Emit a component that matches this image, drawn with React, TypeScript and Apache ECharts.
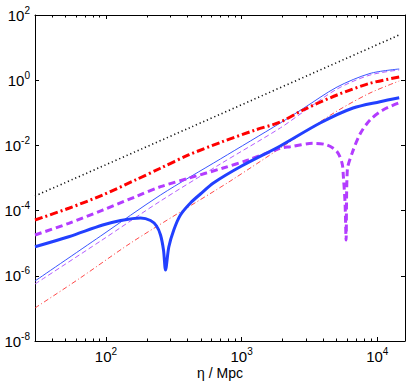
import React, { useEffect, useRef } from "react";
import * as echarts from "echarts";

const ETA_MIN = 30;
const ETA_MAX = 16000;
const Y_MIN = 1e-8;
const Y_MAX = 100;

const xMajorTicks = [100, 1000, 10000];
const xMinorTicks = [40, 50, 60, 70, 80, 90, 200, 300, 400, 500, 600, 700, 800, 900, 2000, 3000, 4000, 5000, 6000, 7000, 8000, 9000];
const yMajorTicks = [1e-8, 1e-6, 1e-4, 1e-2, 1, 100];

// black dotted
const blackEta = [30, 405.6, 14500];
const blackVal = [2.81e-4, 0.0335, 24.4];

// red thick dash-dot
const redThickEta = [30, 53.2, 94.6, 165, 252, 406, 721, 1261, 1926, 2843, 5054, 8836, 14500];
const redThickVal = [5.15e-5, 1.18e-4, 3.01e-4, 8.69e-4, 1.99e-3, 5.08e-3, 0.01297, 0.02967, 0.0522, 0.122, 0.352, 0.803, 1.25];

// red thin dash-dot
const redThinEta = [30, 63, 152, 343, 826, 2843, 5054, 8836, 14500];
const redThinVal = [1.03e-7, 7.98e-7, 1.01e-5, 8.43e-5, 8.09e-4, 0.024, 0.1135, 0.405, 0.945];

// blue thin solid
const blueThinEta = [30, 91.4, 252.5, 697, 1926, 2843, 5054, 8836, 14500];
const blueThinVal = [6.92e-7, 1.66e-5, 3.01e-4, 3.83e-3, 0.0486, 0.1355, 0.618, 1.61, 2.21];

// purple thin dashed
const purpleThinEta = [30, 91.4, 252.5, 697, 1926, 2843, 5054, 8836, 14500];
const purpleThinVal = [5.6e-7, 1.17e-5, 1.97e-4, 2.69e-3, 0.0342, 0.106, 0.537, 1.44, 2.06];

// blue thick solid
const blueThickEta = [30, 53.2, 94.6, 128.3, 179.9, 213.1, 235.9, 252.5, 265.6, 274.8, 290.6, 316.2, 354, 419.6, 497, 619.4, 1000, 1926, 3791, 6626, 10470, 14500];
const blueThickVal = [7.81e-6, 1.58e-5, 3.61e-5, 4.97e-5, 5.93e-5, 4.97e-5, 3.37e-5, 1.79e-5, 6.18e-6, 1.51e-6, 7.64e-6, 2.54e-5, 7.33e-5, 1.71e-4, 3.23e-4, 7.03e-4, 2.33e-3, 9.59e-3, 0.0486, 0.14, 0.219, 0.29];

// purple thick dashed
const purpleThickEta = [30, 53.2, 94.6, 165.3, 252.5, 405.6, 721, 1120, 1926, 2280, 3366, 4266, 5054, 5500, 5623, 5787, 5888, 6013, 6516, 7462, 8836, 11010, 14500];
const purpleThickVal = [1.79e-5, 4.07e-5, 1.04e-4, 2.67e-4, 5.41e-4, 9.8e-4, 1.99e-3, 3.57e-3, 8.15e-3, 9.12e-3, 0.01159, 0.01028, 6.41e-3, 2.82e-3, 1.1e-3, 1.67e-4, 1.25e-5, 1.76e-3, 5.73e-3, 0.0224, 0.0601, 0.122, 0.204];

const FONT = "Liberation Sans";

function pairs(xs: number[], ys: number[]) {
  return xs.map((x, i) => [x, ys[i]]);
}

const powLabel = (v: number) => {
  const e = Math.round(Math.log10(v));
  return `{b|10}{s|${e}}`;
};

const rich = {
  b: { fontSize: 15, lineHeight: 20, fontFamily: FONT, color: "#000" },
  s: { fontSize: 10, lineHeight: 11, fontFamily: FONT, color: "#000", verticalAlign: "top" },
};

function line(name: string, xs: number[], ys: number[], color: string, width: number, type: any, z: number) {
  return {
    type: "line",
    name,
    data: pairs(xs, ys),
    xAxisIndex: 0,
    yAxisIndex: 0,
    showSymbol: false,
    symbol: "none",
    smooth: 0.3,
    z,
    lineStyle: { color, width, type },
    emphasis: { disabled: true },
  };
}

export default function App() {
  const ref = useRef<HTMLDivElement>(null);
  useEffect(() => {
    if (!ref.current) return;
    const chart = echarts.init(ref.current, undefined, { renderer: "svg" });
    const axisLineStyle = { color: "#000", width: 1 };
    const xBase = { type: "log", min: ETA_MIN, max: ETA_MAX, logBase: 10, splitLine: { show: false }, gridIndex: 0 };
    const yBase = { type: "log", min: Y_MIN, max: Y_MAX, logBase: 10, splitLine: { show: false }, gridIndex: 0 };
    chart.setOption({
      animation: false,
      backgroundColor: "#fff",
      textStyle: { fontFamily: FONT },
      grid: { left: 35, right: 4, top: 15, bottom: 41, containLabel: false, outerBoundsMode: "none" },
      xAxis: [
        {
          ...xBase,
          position: "bottom",
          axisLine: { show: true, onZero: false, lineStyle: axisLineStyle },
          axisTick: { show: true, inside: true, length: 4, customValues: xMajorTicks, lineStyle: axisLineStyle },
          axisLabel: { show: true, margin: 5, customValues: xMajorTicks, formatter: powLabel, rich },
          name: "η / Mpc",
          nameLocation: "middle",
          nameGap: 32,
          nameMoveOverlap: false,
          nameTextStyle: { fontSize: 14, fontFamily: FONT, color: "#000", lineHeight: 16, verticalAlign: "middle" },
        },
        {
          ...xBase,
          position: "top",
          axisLine: { show: true, onZero: false, lineStyle: axisLineStyle },
          axisTick: { show: true, inside: true, length: 4, customValues: xMajorTicks, lineStyle: axisLineStyle },
          axisLabel: { show: false },
        },
        {
          ...xBase,
          position: "bottom",
          axisLine: { show: false, onZero: false },
          axisTick: { show: true, inside: true, length: 2.5, customValues: xMinorTicks, lineStyle: axisLineStyle },
          axisLabel: { show: false },
        },
        {
          ...xBase,
          position: "top",
          axisLine: { show: false, onZero: false },
          axisTick: { show: true, inside: true, length: 2.5, customValues: xMinorTicks, lineStyle: axisLineStyle },
          axisLabel: { show: false },
        },
      ],
      yAxis: [
        {
          ...yBase,
          position: "left",
          axisLine: { show: true, onZero: false, lineStyle: axisLineStyle },
          axisTick: { show: true, inside: true, length: 4, customValues: yMajorTicks, lineStyle: axisLineStyle },
          axisLabel: { show: true, margin: 5, customValues: yMajorTicks, formatter: powLabel, rich },
        },
        {
          ...yBase,
          position: "right",
          axisLine: { show: true, onZero: false, lineStyle: axisLineStyle },
          axisTick: { show: true, inside: true, length: 4, customValues: yMajorTicks, lineStyle: axisLineStyle },
          axisLabel: { show: false },
        },
      ],
      series: [
        line("blackDotted", blackEta, blackVal, "#111", 1.6, [1.2, 2.8], 2),
        line("redThin", redThinEta, redThinVal, "#ff1a1a", 0.8, [5, 2.5, 1, 2.5], 3),
        line("purpleThin", purpleThinEta, purpleThinVal, "#b45cff", 1, [5, 3], 3),
        line("blueThin", blueThinEta, blueThinVal, "#3a55ff", 1, "solid", 4),
        line("redThick", redThickEta, redThickVal, "#ff0000", 3, [8, 3, 2, 3], 5),
        line("purpleThick", purpleThickEta, purpleThickVal, "#b33cff", 3, [7, 4], 5),
        line("blueThick", blueThickEta, blueThickVal, "#2240ff", 3, "solid", 6),
      ],
    });
    return () => chart.dispose();
  }, []);
  return (
    <div
      ref={ref}
      style={{ position: "fixed", left: 0, top: 0, width: 409, height: 382, background: "#fff" }}
    />
  );
}
